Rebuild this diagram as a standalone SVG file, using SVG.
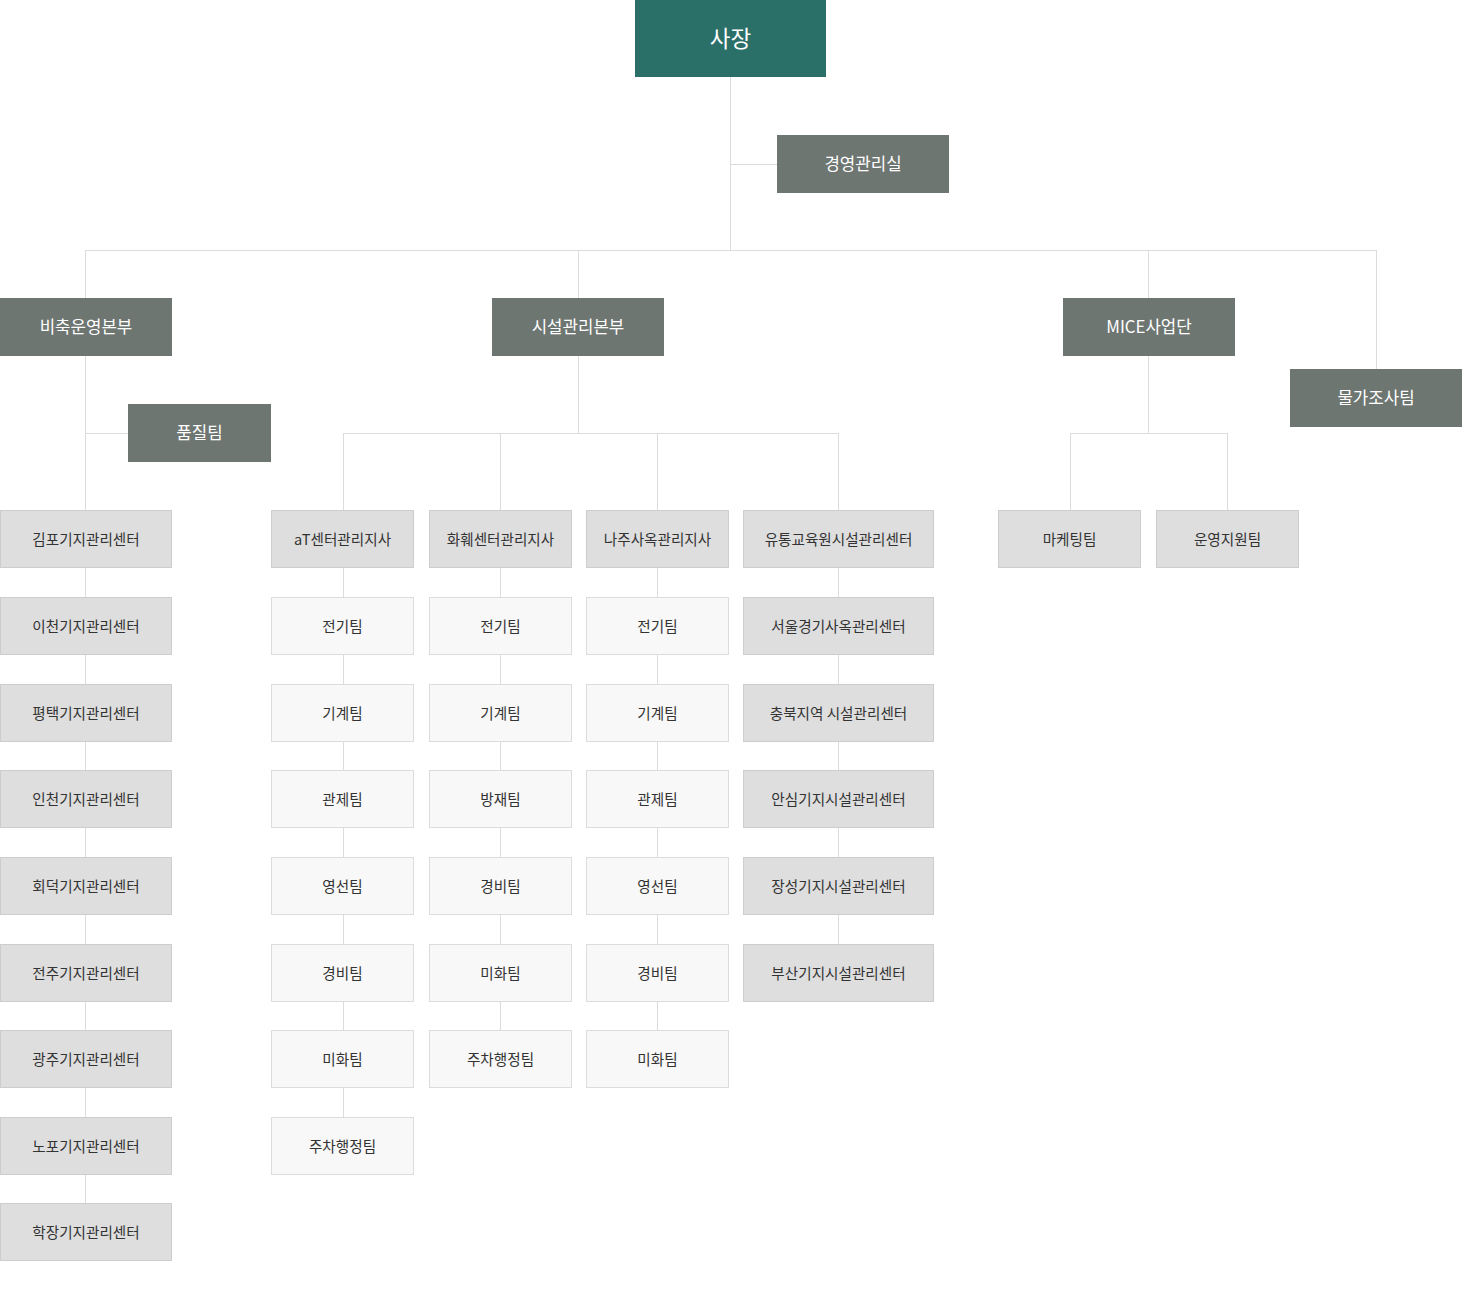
<svg xmlns="http://www.w3.org/2000/svg" width="1462" height="1310" viewBox="0 0 1462 1310">
<style>
text{font-family:"Noto Sans CJK KR","Noto Sans",sans-serif;text-anchor:middle;dominant-baseline:central}
.ln{stroke:#dcdcdc;stroke-width:1;fill:none}
.top rect{fill:#2b6f69}
.top text{fill:#ffffff;font-size:22.5px}
.hq rect{fill:#6e7672}
.hq text{fill:#ffffff;font-size:16.8px}
.br rect{fill:#dedede;stroke:#cdcdcd;stroke-width:1}
.br text{fill:#333333;font-size:14.6px}
.tm rect{fill:#f8f8f8;stroke:#dcdcdc;stroke-width:1}
.tm text{fill:#333333;font-size:14.6px}
</style>
<rect width="1462" height="1310" fill="#ffffff"/>
<g id="connectors" class="ln">
<path d="M730.5 77V250.5"/>
<path d="M730.5 164.5H777"/>
<path d="M85.5 250.5H1376.5"/>
<path d="M85.5 250V1210"/>
<path d="M85.5 433.5H128"/>
<path d="M578.5 250V433.5"/>
<path d="M343.5 433.5H838.5"/>
<path d="M343.5 433V1120"/>
<path d="M500.5 433V1035"/>
<path d="M657.5 433V1035"/>
<path d="M838.5 433V950"/>
<path d="M1148.5 250V433.5"/>
<path d="M1070.5 433.5H1227.5"/>
<path d="M1070.5 433V512"/>
<path d="M1227.5 433V512"/>
<path d="M1376.5 250V370"/>
</g>
<g id="n-ceo" class="top"><rect x="635" y="0" width="191" height="77"/><text x="730.5" y="37">사장</text></g>
<g id="n-mgmt" class="hq"><rect x="777" y="135" width="172" height="58"/><text x="863" y="163">경영관리실</text></g>
<g id="n-stock" class="hq"><rect x="0" y="298" width="172" height="58"/><text x="86" y="326">비축운영본부</text></g>
<g id="n-facility" class="hq"><rect x="492" y="298" width="172" height="58"/><text x="578" y="326">시설관리본부</text></g>
<g id="n-mice" class="hq"><rect x="1063" y="298" width="172" height="58"/><text x="1149" y="326">MICE사업단</text></g>
<g id="n-price" class="hq"><rect x="1290" y="369" width="172" height="58"/><text x="1376" y="397">물가조사팀</text></g>
<g id="n-quality" class="hq"><rect x="128" y="404" width="143" height="58"/><text x="199.5" y="432">품질팀</text></g>

<g id="n-a1" class="br"><rect x="0.5" y="510.5" width="171" height="57"/><text x="86" y="538">김포기지관리센터</text></g>
<g id="n-a2" class="br"><rect x="0.5" y="597.5" width="171" height="57"/><text x="86" y="625">이천기지관리센터</text></g>
<g id="n-a3" class="br"><rect x="0.5" y="684.5" width="171" height="57"/><text x="86" y="712">평택기지관리센터</text></g>
<g id="n-a4" class="br"><rect x="0.5" y="770.5" width="171" height="57"/><text x="86" y="798">인천기지관리센터</text></g>
<g id="n-a5" class="br"><rect x="0.5" y="857.5" width="171" height="57"/><text x="86" y="885">회덕기지관리센터</text></g>
<g id="n-a6" class="br"><rect x="0.5" y="944.5" width="171" height="57"/><text x="86" y="972">전주기지관리센터</text></g>
<g id="n-a7" class="br"><rect x="0.5" y="1030.5" width="171" height="57"/><text x="86" y="1058">광주기지관리센터</text></g>
<g id="n-a8" class="br"><rect x="0.5" y="1117.5" width="171" height="57"/><text x="86" y="1145">노포기지관리센터</text></g>
<g id="n-a9" class="br"><rect x="0.5" y="1203.5" width="171" height="57"/><text x="86" y="1231">학장기지관리센터</text></g>

<g id="n-b0" class="br"><rect x="271.5" y="510.5" width="142" height="57"/><text x="342.5" y="538">aT센터관리지사</text></g>
<g id="n-b1" class="tm"><rect x="271.5" y="597.5" width="142" height="57"/><text x="342.5" y="625">전기팀</text></g>
<g id="n-b2" class="tm"><rect x="271.5" y="684.5" width="142" height="57"/><text x="342.5" y="712">기계팀</text></g>
<g id="n-b3" class="tm"><rect x="271.5" y="770.5" width="142" height="57"/><text x="342.5" y="798">관제팀</text></g>
<g id="n-b4" class="tm"><rect x="271.5" y="857.5" width="142" height="57"/><text x="342.5" y="885">영선팀</text></g>
<g id="n-b5" class="tm"><rect x="271.5" y="944.5" width="142" height="57"/><text x="342.5" y="972">경비팀</text></g>
<g id="n-b6" class="tm"><rect x="271.5" y="1030.5" width="142" height="57"/><text x="342.5" y="1058">미화팀</text></g>
<g id="n-b7" class="tm"><rect x="271.5" y="1117.5" width="142" height="57"/><text x="342.5" y="1145">주차행정팀</text></g>

<g id="n-c0" class="br"><rect x="429.5" y="510.5" width="142" height="57"/><text x="500.5" y="538">화훼센터관리지사</text></g>
<g id="n-c1" class="tm"><rect x="429.5" y="597.5" width="142" height="57"/><text x="500.5" y="625">전기팀</text></g>
<g id="n-c2" class="tm"><rect x="429.5" y="684.5" width="142" height="57"/><text x="500.5" y="712">기계팀</text></g>
<g id="n-c3" class="tm"><rect x="429.5" y="770.5" width="142" height="57"/><text x="500.5" y="798">방재팀</text></g>
<g id="n-c4" class="tm"><rect x="429.5" y="857.5" width="142" height="57"/><text x="500.5" y="885">경비팀</text></g>
<g id="n-c5" class="tm"><rect x="429.5" y="944.5" width="142" height="57"/><text x="500.5" y="972">미화팀</text></g>
<g id="n-c6" class="tm"><rect x="429.5" y="1030.5" width="142" height="57"/><text x="500.5" y="1058">주차행정팀</text></g>

<g id="n-d0" class="br"><rect x="586.5" y="510.5" width="142" height="57"/><text x="657.5" y="538">나주사옥관리지사</text></g>
<g id="n-d1" class="tm"><rect x="586.5" y="597.5" width="142" height="57"/><text x="657.5" y="625">전기팀</text></g>
<g id="n-d2" class="tm"><rect x="586.5" y="684.5" width="142" height="57"/><text x="657.5" y="712">기계팀</text></g>
<g id="n-d3" class="tm"><rect x="586.5" y="770.5" width="142" height="57"/><text x="657.5" y="798">관제팀</text></g>
<g id="n-d4" class="tm"><rect x="586.5" y="857.5" width="142" height="57"/><text x="657.5" y="885">영선팀</text></g>
<g id="n-d5" class="tm"><rect x="586.5" y="944.5" width="142" height="57"/><text x="657.5" y="972">경비팀</text></g>
<g id="n-d6" class="tm"><rect x="586.5" y="1030.5" width="142" height="57"/><text x="657.5" y="1058">미화팀</text></g>

<g id="n-e0" class="br"><rect x="743.5" y="510.5" width="190" height="57"/><text x="838.5" y="538">유통교육원시설관리센터</text></g>
<g id="n-e1" class="br"><rect x="743.5" y="597.5" width="190" height="57"/><text x="838.5" y="625">서울경기사옥관리센터</text></g>
<g id="n-e2" class="br"><rect x="743.5" y="684.5" width="190" height="57"/><text x="838.5" y="712">충북지역 시설관리센터</text></g>
<g id="n-e3" class="br"><rect x="743.5" y="770.5" width="190" height="57"/><text x="838.5" y="798">안심기지시설관리센터</text></g>
<g id="n-e4" class="br"><rect x="743.5" y="857.5" width="190" height="57"/><text x="838.5" y="885">장성기지시설관리센터</text></g>
<g id="n-e5" class="br"><rect x="743.5" y="944.5" width="190" height="57"/><text x="838.5" y="972">부산기지시설관리센터</text></g>

<g id="n-f0" class="br"><rect x="998.5" y="510.5" width="142" height="57"/><text x="1069.5" y="538">마케팅팀</text></g>
<g id="n-f1" class="br"><rect x="1156.5" y="510.5" width="142" height="57"/><text x="1227.5" y="538">운영지원팀</text></g>
</svg>
